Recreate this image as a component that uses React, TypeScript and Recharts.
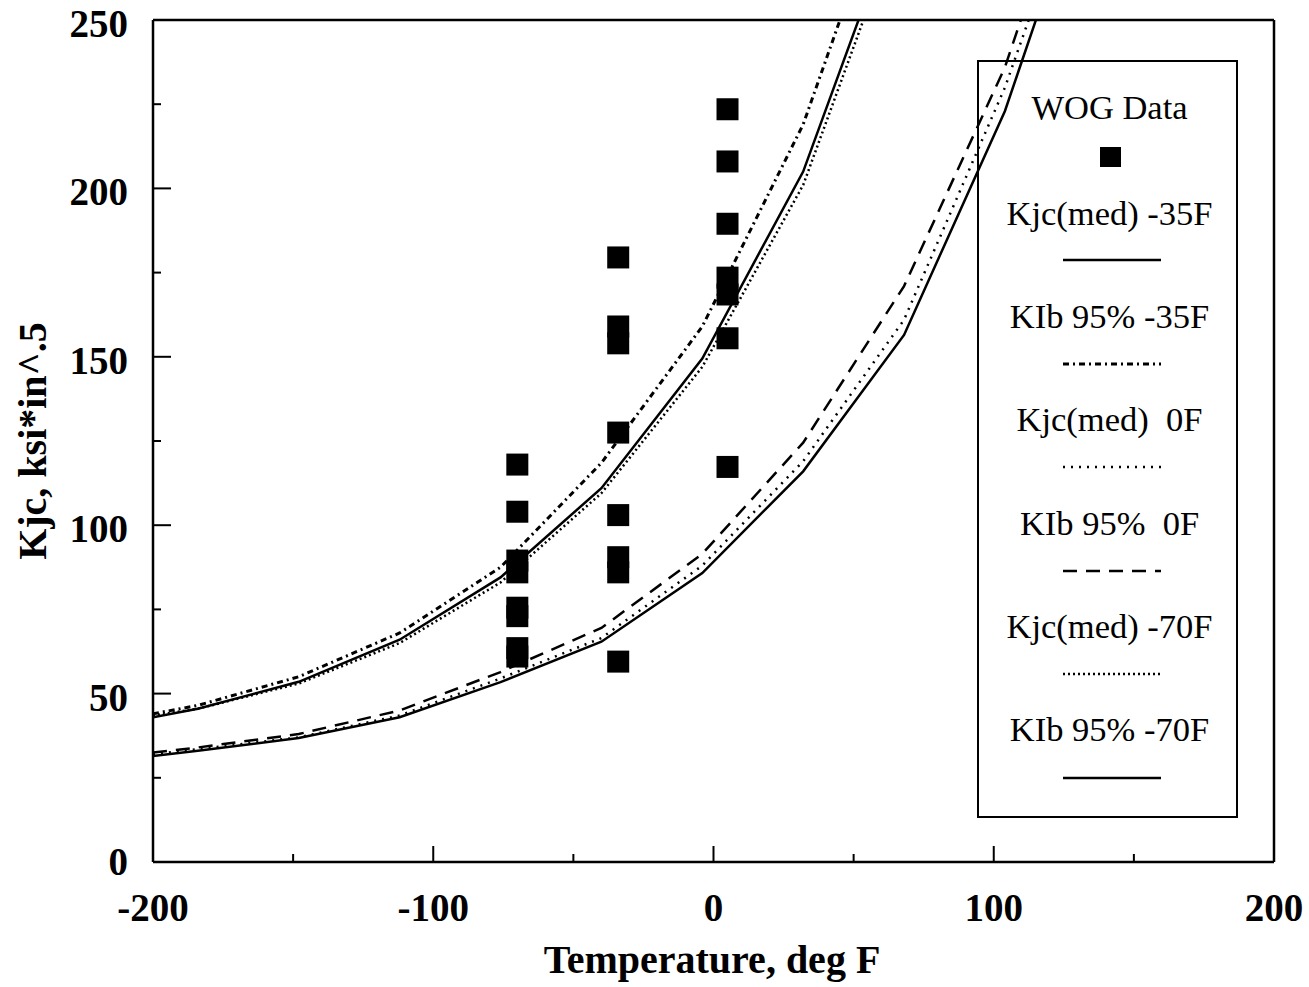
import React from "react";
import { LineChart, Line, Scatter, XAxis, YAxis, ReferenceLine } from "recharts";

// temperatures (deg F) where the curves were computed
const curveTemps = [-200, -184, -148, -112, -76, -40, -4, 32, 68, 104, 140];

const kjcMed35 = [43, 45.5, 53.5, 66, 84.5, 111, 149.5, 205, 287];
const kib95_35 = [44, 46.5, 55, 68, 87.5, 118.5, 159, 219, 304];
const kjcMed0 = [32, 33.5, 37, 43.5, 54.5, 66.5, 88, 119, 161, 230, 315];
const kib95_0 = [32.5, 34, 38, 45, 56.4, 69.5, 91.5, 124.5, 171, 236, 325];
const kjcMed70 = [43.5, 45.5, 53, 65, 83, 109.5, 147, 201, 283];
const kib95_70 = [31.5, 33, 36.8, 43, 53.4, 65.4, 85.8, 116, 156.5, 223, 311];

// WOG test data
const wogTemps = [-70, -70, -70, -70, -70, -70, -70, -70,
  -34, -34, -34, -34, -34, -34, -34, -34,
  5, 5, 5, 5, 5, 5, 5];
const wogK = [118, 104, 89.5, 86, 75.5, 73, 63.5, 61,
  179.5, 159, 154, 127.5, 103, 90.5, 86, 59.5,
  223.5, 208, 189.5, 173.5, 168.5, 155.5, 117.3];

const xTicks = [-200, -150, -100, -50, 0, 50, 100, 150, 200];
const yTicks = [0, 25, 50, 75, 100, 125, 150, 175, 200, 225, 250];

const FONT = '"Liberation Serif", "Times New Roman", serif';

const toPoints = (vals: number[]) => vals.map((k, i) => ({ t: curveTemps[i], k }));
const wogData = wogTemps.map((t, i) => ({ t, k: wogK[i] }));

const series = [
  { name: "Kjc(med) -35F", data: toPoints(kjcMed35), dash: undefined, width: 2.5 },
  { name: "KIb 95% -35F", data: toPoints(kib95_35), dash: "6 4 2 4", width: 3 },
  { name: "Kjc(med)  0F", data: toPoints(kjcMed0), dash: "2 6", width: 2.5 },
  { name: "KIb 95%  0F", data: toPoints(kib95_0), dash: "14 9", width: 2.5 },
  { name: "Kjc(med) -70F", data: toPoints(kjcMed70), dash: "2 3", width: 2.5 },
  { name: "KIb 95% -70F", data: toPoints(kib95_70), dash: undefined, width: 2.5 },
];

const XTick = (props: any) => {
  const { x, y, payload } = props;
  const v = payload.value;
  const major = v % 100 === 0;
  return (
    <g>
      {v !== -200 && v !== 200 && (
        <line x1={x} y1={y} x2={x} y2={y - (major ? 16 : 8)} stroke="#000" strokeWidth={2} />
      )}
      {major && (
        <text x={x} y={y + 59} textAnchor="middle" fontFamily={FONT} fontWeight="bold" fontSize={39} fill="#000">
          {v}
        </text>
      )}
    </g>
  );
};

const YTick = (props: any) => {
  const { x, y, payload } = props;
  const v = payload.value;
  const major = v % 50 === 0;
  return (
    <g>
      {v !== 0 && v !== 250 && (
        <line x1={x} y1={y} x2={x + (major ? 18 : 8)} y2={y} stroke="#000" strokeWidth={2} />
      )}
      {major && (
        <text x={x - 25} y={v === 0 ? y + 13 : y + 17} textAnchor="end" fontFamily={FONT} fontWeight="bold" fontSize={39} fill="#000">
          {v}
        </text>
      )}
    </g>
  );
};

const Square = (props: any) => (
  <rect x={props.cx - 11} y={props.cy - 11} width={22} height={22} fill="#000" />
);

function LegendBox() {
  return (
    <div
      style={{
        position: "absolute",
        left: 977,
        top: 60,
        width: 261,
        height: 758,
        border: "2.5px solid #000",
        boxSizing: "border-box",
        fontFamily: FONT,
        fontSize: 34.5,
        color: "#000",
      }}
    >
      <div style={{ position: "absolute", left: 0, width: 261, top: 26, textAlign: "center", whiteSpace: "pre" }}>
        WOG Data
      </div>
      <div style={{ position: "absolute", left: 121, top: 85, width: 21, height: 20, background: "#000" }} />
      {series.map((s, i) => (
        <React.Fragment key={s.name}>
          <div
            style={{
              position: "absolute",
              left: 0,
              width: 261,
              top: 131 + i * 103.2,
              textAlign: "center",
              whiteSpace: "pre",
              lineHeight: "40px",
            }}
          >
            {s.name}
          </div>
          <svg style={{ position: "absolute", left: 84, top: 193 + i * 103.6 }} width={100} height={10}>
            <line x1={0} y1={5} x2={98} y2={5} stroke="#000" strokeWidth={s.width} strokeDasharray={s.dash} />
          </svg>
        </React.Fragment>
      ))}
    </div>
  );
}

export default function App() {
  return (
    <div style={{ position: "absolute", left: 0, top: 0, width: 1309, height: 987, background: "#fff" }}>
      <LineChart width={1309} height={987} margin={{ top: 20, right: 35, bottom: 65, left: 93 }}>
        <XAxis
          dataKey="t"
          type="number"
          domain={[-200, 200]}
          ticks={xTicks}
          interval={0}
          allowDataOverflow
          height={60}
          tickSize={0}
          tickMargin={0}
          tickLine={false}
          tick={<XTick />}
          axisLine={{ stroke: "#000", strokeWidth: 2.5 }}
        />
        <YAxis
          dataKey="k"
          type="number"
          domain={[0, 250]}
          ticks={yTicks}
          interval={0}
          allowDataOverflow
          width={60}
          tickSize={0}
          tickMargin={0}
          tickLine={false}
          tick={<YTick />}
          axisLine={{ stroke: "#000", strokeWidth: 2.5 }}
        />
        <ReferenceLine y={250} stroke="#000" strokeWidth={2.5} />
        <ReferenceLine x={200} stroke="#000" strokeWidth={2.5} />
        {series.map((s) => (
          <Line
            key={s.name}
            data={s.data}
            dataKey="k"
            name={s.name}
            type="linear"
            stroke="#000"
            strokeWidth={s.width}
            strokeDasharray={s.dash}
            dot={false}
            activeDot={false}
            isAnimationActive={false}
          />
        ))}
        <Scatter data={wogData} dataKey="k" name="WOG Data" shape={<Square />} isAnimationActive={false} />
        <text x={712} y={973} textAnchor="middle" fontFamily={FONT} fontWeight="bold" fontSize={40} fill="#000">
          Temperature, deg F
        </text>
        <text
          x={46}
          y={441}
          transform="rotate(-90 46 441)"
          textAnchor="middle"
          fontFamily={FONT}
          fontWeight="bold"
          fontSize={40}
          fill="#000"
        >
          Kjc, ksi*in^.5
        </text>
      </LineChart>
      <LegendBox />
    </div>
  );
}
